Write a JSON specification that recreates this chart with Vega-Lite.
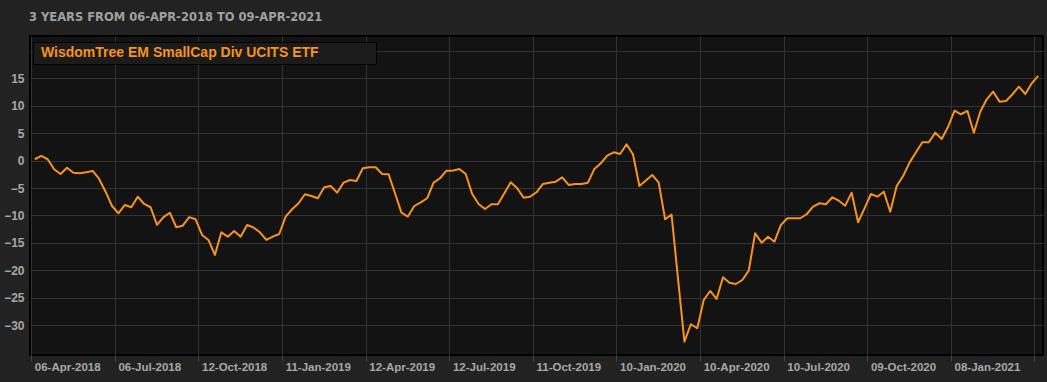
{
  "$schema": "https://vega.github.io/schema/vega-lite/v6.json",
  "width": 1013,
  "height": 319,
  "autosize": {"type": "none"},
  "padding": {"left": 30, "top": 36, "right": 4, "bottom": 27},
  "background": "#222222",
  "title": {
    "text": "3 YEARS FROM 06-APR-2018 TO 09-APR-2021",
    "anchor": "start",
    "frame": "group",
    "font": "DejaVu Sans",
    "fontSize": 11.5,
    "fontWeight": "bold",
    "color": "#a0a0a0",
    "baseline": "alphabetic",
    "offset": 16,
    "dx": -1,
    "dy": 12
  },
  "config": {
    "view": {"fill": "#131313", "stroke": "#000000", "strokeWidth": 2},
    "axis": {"gridColor": "#333333", "gridWidth": 1, "labelFont": "Liberation Sans", "labelColor": "#a8a8a8", "domain": false}
  },
  "data": {
    "values": [
      {"date": "06-Apr-2018", "value": 0.26}, {"date": "13-Apr-2018", "value": 0.86}, {"date": "20-Apr-2018", "value": 0.26}, {"date": "27-Apr-2018", "value": -1.57},
      {"date": "04-May-2018", "value": -2.43}, {"date": "11-May-2018", "value": -1.28}, {"date": "18-May-2018", "value": -2.19}, {"date": "25-May-2018", "value": -2.3},
      {"date": "01-Jun-2018", "value": -2.1}, {"date": "08-Jun-2018", "value": -1.88}, {"date": "15-Jun-2018", "value": -3.34}, {"date": "22-Jun-2018", "value": -5.66},
      {"date": "29-Jun-2018", "value": -8.27}, {"date": "06-Jul-2018", "value": -9.6}, {"date": "13-Jul-2018", "value": -8.08}, {"date": "20-Jul-2018", "value": -8.5},
      {"date": "27-Jul-2018", "value": -6.57}, {"date": "03-Aug-2018", "value": -7.9}, {"date": "10-Aug-2018", "value": -8.5}, {"date": "17-Aug-2018", "value": -11.7},
      {"date": "24-Aug-2018", "value": -10.3}, {"date": "31-Aug-2018", "value": -9.5}, {"date": "07-Sep-2018", "value": -12.15}, {"date": "14-Sep-2018", "value": -11.86},
      {"date": "21-Sep-2018", "value": -10.3}, {"date": "28-Sep-2018", "value": -10.7}, {"date": "12-Oct-2018", "value": -13.56}, {"date": "19-Oct-2018", "value": -14.47},
      {"date": "26-Oct-2018", "value": -17.2}, {"date": "02-Nov-2018", "value": -13.07}, {"date": "09-Nov-2018", "value": -13.87}, {"date": "16-Nov-2018", "value": -12.83},
      {"date": "23-Nov-2018", "value": -13.87}, {"date": "30-Nov-2018", "value": -11.73}, {"date": "07-Dec-2018", "value": -12.2}, {"date": "14-Dec-2018", "value": -13.07},
      {"date": "21-Dec-2018", "value": -14.47}, {"date": "28-Dec-2018", "value": -13.87}, {"date": "04-Jan-2019", "value": -13.38}, {"date": "11-Jan-2019", "value": -10.2},
      {"date": "18-Jan-2019", "value": -8.87}, {"date": "25-Jan-2019", "value": -7.77}, {"date": "01-Feb-2019", "value": -6.13}, {"date": "08-Feb-2019", "value": -6.44},
      {"date": "15-Feb-2019", "value": -6.86}, {"date": "22-Feb-2019", "value": -4.85}, {"date": "01-Mar-2019", "value": -4.62}, {"date": "08-Mar-2019", "value": -5.84},
      {"date": "15-Mar-2019", "value": -4.01}, {"date": "22-Mar-2019", "value": -3.52}, {"date": "29-Mar-2019", "value": -3.7}, {"date": "05-Apr-2019", "value": -1.39},
      {"date": "12-Apr-2019", "value": -1.2}, {"date": "19-Apr-2019", "value": -1.2}, {"date": "26-Apr-2019", "value": -2.43}, {"date": "03-May-2019", "value": -2.48},
      {"date": "10-May-2019", "value": -5.95}, {"date": "17-May-2019", "value": -9.49}, {"date": "24-May-2019", "value": -10.2}, {"date": "31-May-2019", "value": -8.27},
      {"date": "07-Jun-2019", "value": -7.6}, {"date": "14-Jun-2019", "value": -6.86}, {"date": "21-Jun-2019", "value": -4.01}, {"date": "28-Jun-2019", "value": -3.21},
      {"date": "05-Jul-2019", "value": -1.82}, {"date": "12-Jul-2019", "value": -1.82}, {"date": "19-Jul-2019", "value": -1.51}, {"date": "26-Jul-2019", "value": -2.43},
      {"date": "02-Aug-2019", "value": -6.08}, {"date": "09-Aug-2019", "value": -7.9}, {"date": "16-Aug-2019", "value": -8.81}, {"date": "23-Aug-2019", "value": -7.96},
      {"date": "30-Aug-2019", "value": -7.96}, {"date": "06-Sep-2019", "value": -5.95}, {"date": "13-Sep-2019", "value": -3.95}, {"date": "20-Sep-2019", "value": -5.04},
      {"date": "27-Sep-2019", "value": -6.75}, {"date": "04-Oct-2019", "value": -6.57}, {"date": "11-Oct-2019", "value": -5.77}, {"date": "18-Oct-2019", "value": -4.25},
      {"date": "25-Oct-2019", "value": -4.01}, {"date": "01-Nov-2019", "value": -3.83}, {"date": "08-Nov-2019", "value": -3.03}, {"date": "15-Nov-2019", "value": -4.43},
      {"date": "22-Nov-2019", "value": -4.25}, {"date": "29-Nov-2019", "value": -4.25}, {"date": "06-Dec-2019", "value": -4.01}, {"date": "13-Dec-2019", "value": -1.51},
      {"date": "20-Dec-2019", "value": -0.47}, {"date": "27-Dec-2019", "value": 0.91}, {"date": "03-Jan-2020", "value": 1.53}, {"date": "10-Jan-2020", "value": 1.22},
      {"date": "17-Jan-2020", "value": 2.99}, {"date": "24-Jan-2020", "value": 1.17}, {"date": "31-Jan-2020", "value": -4.62}, {"date": "07-Feb-2020", "value": -3.6},
      {"date": "14-Feb-2020", "value": -2.61}, {"date": "21-Feb-2020", "value": -4.01}, {"date": "28-Feb-2020", "value": -10.7}, {"date": "06-Mar-2020", "value": -9.85},
      {"date": "13-Mar-2020", "value": -21.5}, {"date": "20-Mar-2020", "value": -33.03}, {"date": "27-Mar-2020", "value": -29.85}, {"date": "03-Apr-2020", "value": -30.58},
      {"date": "10-Apr-2020", "value": -25.42}, {"date": "17-Apr-2020", "value": -23.78}, {"date": "24-Apr-2020", "value": -25.24}, {"date": "01-May-2020", "value": -21.28},
      {"date": "08-May-2020", "value": -22.26}, {"date": "15-May-2020", "value": -22.5}, {"date": "22-May-2020", "value": -21.77}, {"date": "29-May-2020", "value": -20.07},
      {"date": "05-Jun-2020", "value": -13.25}, {"date": "12-Jun-2020", "value": -14.96}, {"date": "19-Jun-2020", "value": -13.87}, {"date": "26-Jun-2020", "value": -14.78},
      {"date": "03-Jul-2020", "value": -11.73}, {"date": "10-Jul-2020", "value": -10.51}, {"date": "17-Jul-2020", "value": -10.51}, {"date": "24-Jul-2020", "value": -10.51},
      {"date": "31-Jul-2020", "value": -9.78}, {"date": "07-Aug-2020", "value": -8.39}, {"date": "14-Aug-2020", "value": -7.77}, {"date": "21-Aug-2020", "value": -7.96},
      {"date": "28-Aug-2020", "value": -6.68}, {"date": "04-Sep-2020", "value": -7.3}, {"date": "11-Sep-2020", "value": -8.21}, {"date": "18-Sep-2020", "value": -5.84},
      {"date": "25-Sep-2020", "value": -11.24}, {"date": "02-Oct-2020", "value": -8.69}, {"date": "09-Oct-2020", "value": -6.08}, {"date": "16-Oct-2020", "value": -6.57},
      {"date": "23-Oct-2020", "value": -5.66}, {"date": "30-Oct-2020", "value": -9.31}, {"date": "06-Nov-2020", "value": -4.62}, {"date": "13-Nov-2020", "value": -2.79},
      {"date": "20-Nov-2020", "value": -0.36}, {"date": "27-Nov-2020", "value": 1.53}, {"date": "04-Dec-2020", "value": 3.36}, {"date": "11-Dec-2020", "value": 3.36},
      {"date": "18-Dec-2020", "value": 5.11}, {"date": "25-Dec-2020", "value": 3.96}, {"date": "01-Jan-2021", "value": 6.2}, {"date": "08-Jan-2021", "value": 9.12},
      {"date": "15-Jan-2021", "value": 8.47}, {"date": "22-Jan-2021", "value": 9.07}, {"date": "29-Jan-2021", "value": 5.11}, {"date": "05-Feb-2021", "value": 8.94},
      {"date": "12-Feb-2021", "value": 11.2}, {"date": "19-Feb-2021", "value": 12.59}, {"date": "26-Feb-2021", "value": 10.77}, {"date": "05-Mar-2021", "value": 10.89},
      {"date": "12-Mar-2021", "value": 12.12}, {"date": "19-Mar-2021", "value": 13.5}, {"date": "26-Mar-2021", "value": 12.17}, {"date": "02-Apr-2021", "value": 14.12},
      {"date": "09-Apr-2021", "value": 15.46}
    ]
  },
  "mark": {"type": "line", "strokeWidth": 2, "strokeJoin": "round"},
  "encoding": {
    "x": {
      "field": "date",
      "type": "ordinal",
      "sort": null,
      "bandPosition": 0.5,
      "scale": {"type": "band", "paddingInner": 0, "paddingOuter": 0.25},
      "axis": {
        "title": null,
        "values": ["06-Apr-2018", "06-Jul-2018", "12-Oct-2018", "11-Jan-2019", "12-Apr-2019", "12-Jul-2019", "11-Oct-2019", "10-Jan-2020", "10-Apr-2020", "10-Jul-2020", "09-Oct-2020", "08-Jan-2021", "09-Apr-2021"],
        "labelExpr": "datum.value == '09-Apr-2021' ? '' : datum.value",
        "bandPosition": 0,
        "grid": true,
        "ticks": true,
        "tickSize": 6,
        "tickColor": "#444444",
        "labelAlign": "left",
        "labelAngle": 0,
        "labelDx": 8,
        "labelPadding": 0,
        "labelFontSize": 11.5,
        "labelFontWeight": "bold",
        "labelOverlap": false,
        "labelBound": false,
        "labelFlush": false
      }
    },
    "y": {
      "field": "value",
      "type": "quantitative",
      "scale": {"domain": [-35.46, 22.75], "nice": false, "zero": false},
      "axis": {
        "title": null,
        "values": [-30, -25, -20, -15, -10, -5, 0, 5, 10, 15, 20],
        "labelExpr": "datum.value == 20 ? '' : datum.label",
        "ticks": false,
        "labelPadding": 6,
        "labelFontSize": 12,
        "labelFontWeight": "bold",
        "grid": true
      }
    },
    "color": {
      "datum": "WisdomTree EM SmallCap Div UCITS ETF",
      "type": "nominal",
      "scale": {"range": ["#f7931e"]},
      "legend": {
        "title": null,
        "orient": "none",
        "legendX": 3,
        "legendY": 6,
        "padding": 4,
        "fillColor": "#1b1b1b",
        "strokeColor": "#000000",
        "symbolSize": 10,
        "symbolOpacity": 0,
        "symbolOffset": 326,
        "labelOffset": -336,
        "labelFont": "Liberation Sans",
        "labelFontSize": 14,
        "labelFontWeight": "bold",
        "labelColor": "#f7931e",
        "labelLimit": 400
      }
    }
  }
}
